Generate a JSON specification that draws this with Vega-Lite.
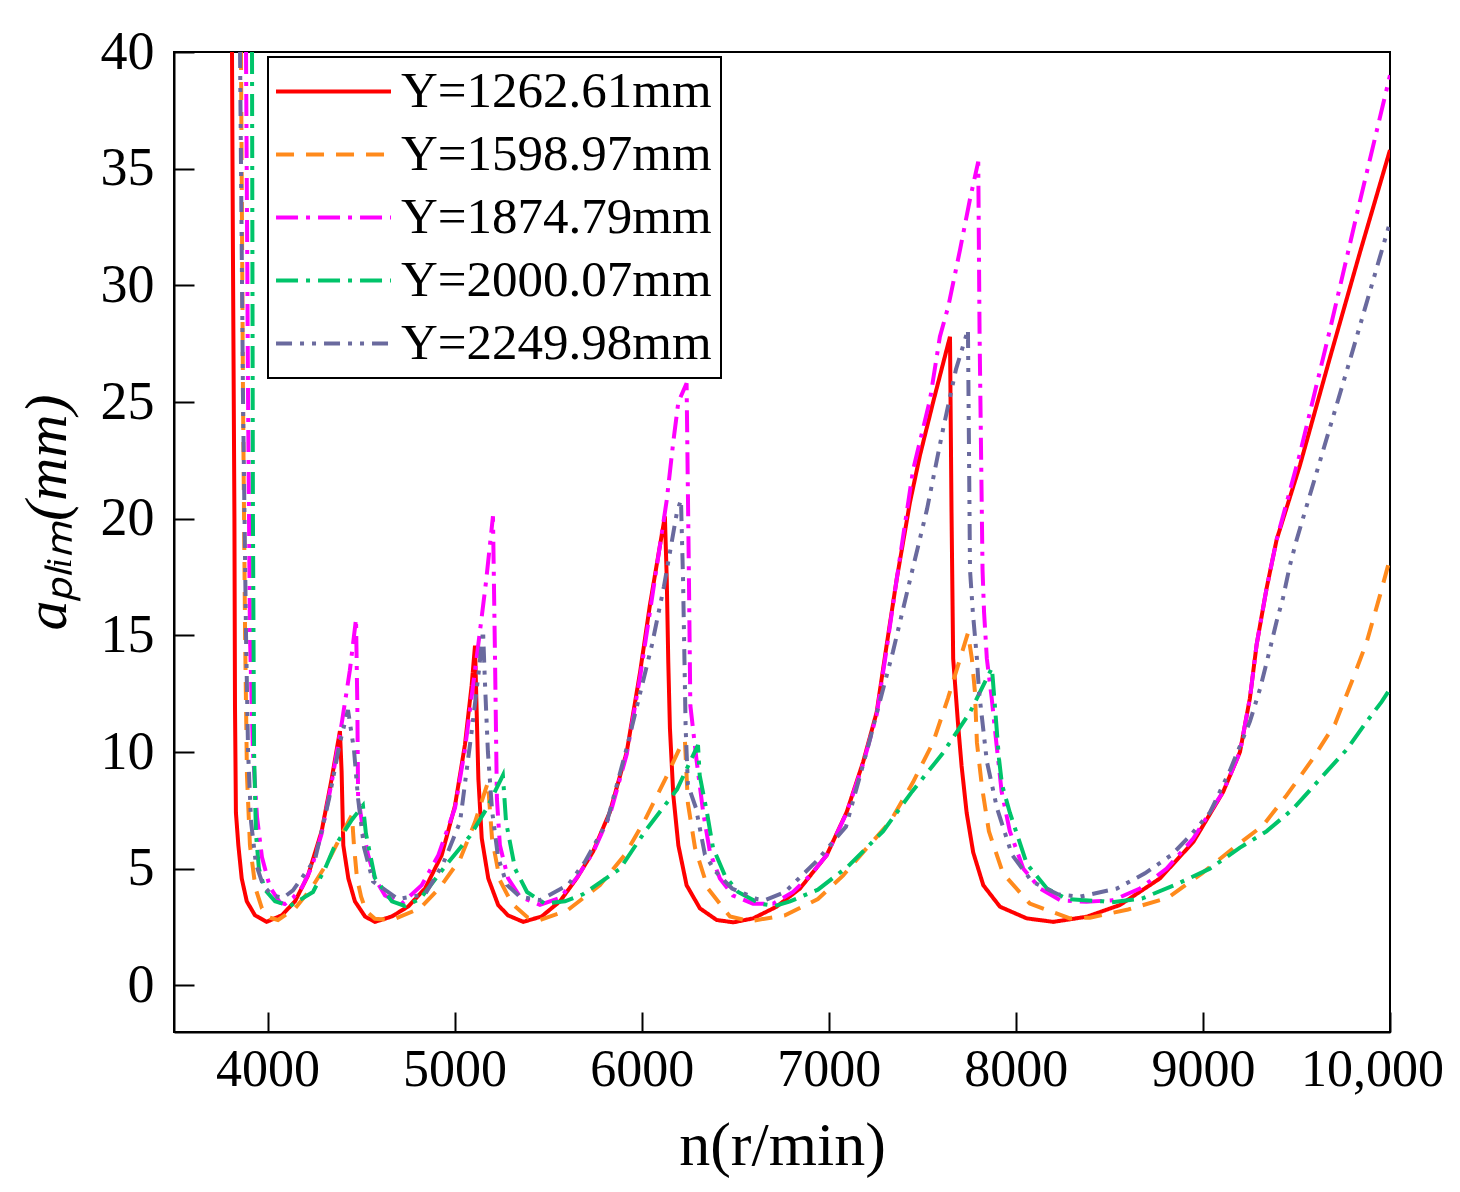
{
  "$schema": "https://vega.github.io/schema/vega-lite/v6.json",
  "width": 1216,
  "height": 980,
  "autosize": {"type": "none"},
  "padding": {"left": 174, "top": 52, "right": 70, "bottom": 160},
  "background": "white",
  "config": {
    "view": {"stroke": "black", "strokeWidth": 2},
    "axis": {
      "domainColor": "black", "domainWidth": 2, "tickColor": "black", "tickWidth": 2,
      "grid": false, "labelFont": "Liberation Serif", "labelColor": "black",
      "titleFont": "Liberation Serif", "titleColor": "black", "titleFontWeight": "normal"
    }
  },
  "data": {"values": [
{"s":"Y=1262.61mm","n":3810,"a":40},{"s":"Y=1262.61mm","n":3815,"a":31.5},{"s":"Y=1262.61mm","n":3823,"a":20},{"s":"Y=1262.61mm","n":3826,"a":12},{"s":"Y=1262.61mm","n":3831,"a":7.4},{"s":"Y=1262.61mm","n":3844,"a":6.0},{"s":"Y=1262.61mm","n":3862,"a":4.58},{"s":"Y=1262.61mm","n":3889,"a":3.6},{"s":"Y=1262.61mm","n":3933,"a":3.0},{"s":"Y=1262.61mm","n":3995,"a":2.72},{"s":"Y=1262.61mm","n":4076,"a":3.0},{"s":"Y=1262.61mm","n":4147,"a":3.6},{"s":"Y=1262.61mm","n":4216,"a":4.7},{"s":"Y=1262.61mm","n":4289,"a":6.6},{"s":"Y=1262.61mm","n":4343,"a":8.86},{"s":"Y=1262.61mm","n":4387,"a":10.9},{"s":"Y=1262.61mm","n":4396,"a":9.15},{"s":"Y=1262.61mm","n":4405,"a":6.0},{"s":"Y=1262.61mm","n":4432,"a":4.58},{"s":"Y=1262.61mm","n":4467,"a":3.6},{"s":"Y=1262.61mm","n":4521,"a":2.95},{"s":"Y=1262.61mm","n":4574,"a":2.72},{"s":"Y=1262.61mm","n":4664,"a":2.95},{"s":"Y=1262.61mm","n":4752,"a":3.38},{"s":"Y=1262.61mm","n":4842,"a":4.15},{"s":"Y=1262.61mm","n":4931,"a":5.58},{"s":"Y=1262.61mm","n":5002,"a":7.7},{"s":"Y=1262.61mm","n":5055,"a":10.3},{"s":"Y=1262.61mm","n":5091,"a":12.85},{"s":"Y=1262.61mm","n":5109,"a":14.56},{"s":"Y=1262.61mm","n":5118,"a":11.7},{"s":"Y=1262.61mm","n":5127,"a":8.86},{"s":"Y=1262.61mm","n":5145,"a":6.3},{"s":"Y=1262.61mm","n":5180,"a":4.58},{"s":"Y=1262.61mm","n":5233,"a":3.44},{"s":"Y=1262.61mm","n":5285,"a":3.0},{"s":"Y=1262.61mm","n":5367,"a":2.72},{"s":"Y=1262.61mm","n":5465,"a":2.95},{"s":"Y=1262.61mm","n":5563,"a":3.6},{"s":"Y=1262.61mm","n":5652,"a":4.58},{"s":"Y=1262.61mm","n":5740,"a":5.73},{"s":"Y=1262.61mm","n":5830,"a":7.43},{"s":"Y=1262.61mm","n":5920,"a":10.0},{"s":"Y=1262.61mm","n":5991,"a":13.4},{"s":"Y=1262.61mm","n":6044,"a":16.3},{"s":"Y=1262.61mm","n":6124,"a":20.1},{"s":"Y=1262.61mm","n":6134,"a":17.4},{"s":"Y=1262.61mm","n":6142,"a":13.9},{"s":"Y=1262.61mm","n":6151,"a":11.0},{"s":"Y=1262.61mm","n":6169,"a":8.15},{"s":"Y=1262.61mm","n":6196,"a":6.0},{"s":"Y=1262.61mm","n":6240,"a":4.29},{"s":"Y=1262.61mm","n":6311,"a":3.3},{"s":"Y=1262.61mm","n":6401,"a":2.8},{"s":"Y=1262.61mm","n":6490,"a":2.7},{"s":"Y=1262.61mm","n":6596,"a":2.87},{"s":"Y=1262.61mm","n":6721,"a":3.37},{"s":"Y=1262.61mm","n":6846,"a":4.15},{"s":"Y=1262.61mm","n":6989,"a":5.58},{"s":"Y=1262.61mm","n":7096,"a":7.43},{"s":"Y=1262.61mm","n":7184,"a":9.58},{"s":"Y=1262.61mm","n":7256,"a":11.7},{"s":"Y=1262.61mm","n":7309,"a":14.56},{"s":"Y=1262.61mm","n":7363,"a":17.4},{"s":"Y=1262.61mm","n":7434,"a":20.7},{"s":"Y=1262.61mm","n":7487,"a":22.7},{"s":"Y=1262.61mm","n":7558,"a":25.0},{"s":"Y=1262.61mm","n":7648,"a":27.8},{"s":"Y=1262.61mm","n":7656,"a":20.4},{"s":"Y=1262.61mm","n":7665,"a":14.0},{"s":"Y=1262.61mm","n":7692,"a":11.1},{"s":"Y=1262.61mm","n":7710,"a":9.4},{"s":"Y=1262.61mm","n":7737,"a":7.4},{"s":"Y=1262.61mm","n":7772,"a":5.7},{"s":"Y=1262.61mm","n":7826,"a":4.29},{"s":"Y=1262.61mm","n":7915,"a":3.37},{"s":"Y=1262.61mm","n":8058,"a":2.87},{"s":"Y=1262.61mm","n":8200,"a":2.72},{"s":"Y=1262.61mm","n":8379,"a":2.94},{"s":"Y=1262.61mm","n":8556,"a":3.44},{"s":"Y=1262.61mm","n":8770,"a":4.58},{"s":"Y=1262.61mm","n":8949,"a":6.15},{"s":"Y=1262.61mm","n":9108,"a":8.29},{"s":"Y=1262.61mm","n":9198,"a":10.0},{"s":"Y=1262.61mm","n":9251,"a":12.3},{"s":"Y=1262.61mm","n":9287,"a":14.6},{"s":"Y=1262.61mm","n":9340,"a":17.0},{"s":"Y=1262.61mm","n":9394,"a":19.1},{"s":"Y=1262.61mm","n":9519,"a":22.3},{"s":"Y=1262.61mm","n":9679,"a":26.9},{"s":"Y=1262.61mm","n":9839,"a":31.4},{"s":"Y=1262.61mm","n":10000,"a":35.8},
{"s":"Y=1598.97mm","n":3858,"a":40},{"s":"Y=1598.97mm","n":3869,"a":25},{"s":"Y=1598.97mm","n":3880,"a":15},{"s":"Y=1598.97mm","n":3890,"a":9},{"s":"Y=1598.97mm","n":3906,"a":6.0},{"s":"Y=1598.97mm","n":3936,"a":4.15},{"s":"Y=1598.97mm","n":3970,"a":3.3},{"s":"Y=1598.97mm","n":4013,"a":2.9},{"s":"Y=1598.97mm","n":4056,"a":2.8},{"s":"Y=1598.97mm","n":4147,"a":3.3},{"s":"Y=1598.97mm","n":4238,"a":4.2},{"s":"Y=1598.97mm","n":4323,"a":5.3},{"s":"Y=1598.97mm","n":4398,"a":6.5},{"s":"Y=1598.97mm","n":4451,"a":7.3},{"s":"Y=1598.97mm","n":4462,"a":6.0},{"s":"Y=1598.97mm","n":4478,"a":4.6},{"s":"Y=1598.97mm","n":4500,"a":3.8},{"s":"Y=1598.97mm","n":4526,"a":3.2},{"s":"Y=1598.97mm","n":4574,"a":2.85},{"s":"Y=1598.97mm","n":4665,"a":2.8},{"s":"Y=1598.97mm","n":4815,"a":3.3},{"s":"Y=1598.97mm","n":4922,"a":4.2},{"s":"Y=1598.97mm","n":5029,"a":5.4},{"s":"Y=1598.97mm","n":5109,"a":7.0},{"s":"Y=1598.97mm","n":5178,"a":8.7},{"s":"Y=1598.97mm","n":5200,"a":6.3},{"s":"Y=1598.97mm","n":5242,"a":4.5},{"s":"Y=1598.97mm","n":5307,"a":3.5},{"s":"Y=1598.97mm","n":5392,"a":2.9},{"s":"Y=1598.97mm","n":5456,"a":2.8},{"s":"Y=1598.97mm","n":5601,"a":3.2},{"s":"Y=1598.97mm","n":5777,"a":4.3},{"s":"Y=1598.97mm","n":5911,"a":5.6},{"s":"Y=1598.97mm","n":6018,"a":7.1},{"s":"Y=1598.97mm","n":6124,"a":8.8},{"s":"Y=1598.97mm","n":6205,"a":10.2},{"s":"Y=1598.97mm","n":6231,"a":10.5},{"s":"Y=1598.97mm","n":6247,"a":7.8},{"s":"Y=1598.97mm","n":6285,"a":5.9},{"s":"Y=1598.97mm","n":6354,"a":4.15},{"s":"Y=1598.97mm","n":6472,"a":2.95},{"s":"Y=1598.97mm","n":6579,"a":2.75},{"s":"Y=1598.97mm","n":6766,"a":3.0},{"s":"Y=1598.97mm","n":6942,"a":3.7},{"s":"Y=1598.97mm","n":7076,"a":4.7},{"s":"Y=1598.97mm","n":7183,"a":5.7},{"s":"Y=1598.97mm","n":7327,"a":7.0},{"s":"Y=1598.97mm","n":7450,"a":8.7},{"s":"Y=1598.97mm","n":7557,"a":10.4},{"s":"Y=1598.97mm","n":7637,"a":12.3},{"s":"Y=1598.97mm","n":7744,"a":15.1},{"s":"Y=1598.97mm","n":7765,"a":14.0},{"s":"Y=1598.97mm","n":7781,"a":12.6},{"s":"Y=1598.97mm","n":7792,"a":10.4},{"s":"Y=1598.97mm","n":7819,"a":8.5},{"s":"Y=1598.97mm","n":7856,"a":6.6},{"s":"Y=1598.97mm","n":7931,"a":4.8},{"s":"Y=1598.97mm","n":8075,"a":3.5},{"s":"Y=1598.97mm","n":8289,"a":2.87},{"s":"Y=1598.97mm","n":8396,"a":2.9},{"s":"Y=1598.97mm","n":8600,"a":3.25},{"s":"Y=1598.97mm","n":8813,"a":3.75},{"s":"Y=1598.97mm","n":8995,"a":4.8},{"s":"Y=1598.97mm","n":9150,"a":5.8},{"s":"Y=1598.97mm","n":9322,"a":6.86},{"s":"Y=1598.97mm","n":9447,"a":8.14},{"s":"Y=1598.97mm","n":9581,"a":9.64},{"s":"Y=1598.97mm","n":9706,"a":11.2},{"s":"Y=1598.97mm","n":9795,"a":13.0},{"s":"Y=1598.97mm","n":9875,"a":14.7},{"s":"Y=1598.97mm","n":9946,"a":16.7},{"s":"Y=1598.97mm","n":10000,"a":18.3},
{"s":"Y=1874.79mm","n":3885,"a":40},{"s":"Y=1874.79mm","n":3896,"a":25},{"s":"Y=1874.79mm","n":3906,"a":15},{"s":"Y=1874.79mm","n":3922,"a":10},{"s":"Y=1874.79mm","n":3944,"a":7.2},{"s":"Y=1874.79mm","n":3970,"a":5.5},{"s":"Y=1874.79mm","n":4013,"a":4.2},{"s":"Y=1874.79mm","n":4067,"a":3.55},{"s":"Y=1874.79mm","n":4093,"a":3.48},{"s":"Y=1874.79mm","n":4136,"a":3.75},{"s":"Y=1874.79mm","n":4184,"a":4.2},{"s":"Y=1874.79mm","n":4238,"a":5.1},{"s":"Y=1874.79mm","n":4289,"a":6.5},{"s":"Y=1874.79mm","n":4343,"a":8.7},{"s":"Y=1874.79mm","n":4398,"a":11.3},{"s":"Y=1874.79mm","n":4440,"a":13.5},{"s":"Y=1874.79mm","n":4473,"a":15.7},{"s":"Y=1874.79mm","n":4480,"a":12.0},{"s":"Y=1874.79mm","n":4484,"a":8.1},{"s":"Y=1874.79mm","n":4510,"a":6.7},{"s":"Y=1874.79mm","n":4537,"a":5.6},{"s":"Y=1874.79mm","n":4574,"a":4.58},{"s":"Y=1874.79mm","n":4628,"a":3.85},{"s":"Y=1874.79mm","n":4717,"a":3.5},{"s":"Y=1874.79mm","n":4824,"a":4.29},{"s":"Y=1874.79mm","n":4913,"a":5.58},{"s":"Y=1874.79mm","n":5002,"a":7.6},{"s":"Y=1874.79mm","n":5055,"a":10.1},{"s":"Y=1874.79mm","n":5093,"a":12.5},{"s":"Y=1874.79mm","n":5125,"a":14.5},{"s":"Y=1874.79mm","n":5168,"a":17.3},{"s":"Y=1874.79mm","n":5205,"a":20.1},{"s":"Y=1874.79mm","n":5216,"a":14.0},{"s":"Y=1874.79mm","n":5226,"a":8.0},{"s":"Y=1874.79mm","n":5242,"a":6.0},{"s":"Y=1874.79mm","n":5285,"a":4.6},{"s":"Y=1874.79mm","n":5349,"a":3.8},{"s":"Y=1874.79mm","n":5456,"a":3.45},{"s":"Y=1874.79mm","n":5563,"a":3.75},{"s":"Y=1874.79mm","n":5652,"a":4.6},{"s":"Y=1874.79mm","n":5740,"a":5.7},{"s":"Y=1874.79mm","n":5830,"a":7.3},{"s":"Y=1874.79mm","n":5920,"a":9.9},{"s":"Y=1874.79mm","n":5991,"a":13.2},{"s":"Y=1874.79mm","n":6044,"a":16.0},{"s":"Y=1874.79mm","n":6104,"a":19.2},{"s":"Y=1874.79mm","n":6134,"a":20.8},{"s":"Y=1874.79mm","n":6169,"a":23.3},{"s":"Y=1874.79mm","n":6196,"a":25.0},{"s":"Y=1874.79mm","n":6240,"a":25.8},{"s":"Y=1874.79mm","n":6252,"a":17.8},{"s":"Y=1874.79mm","n":6260,"a":12.0},{"s":"Y=1874.79mm","n":6294,"a":9.6},{"s":"Y=1874.79mm","n":6329,"a":7.4},{"s":"Y=1874.79mm","n":6365,"a":5.7},{"s":"Y=1874.79mm","n":6418,"a":4.58},{"s":"Y=1874.79mm","n":6488,"a":3.85},{"s":"Y=1874.79mm","n":6595,"a":3.5},{"s":"Y=1874.79mm","n":6702,"a":3.5},{"s":"Y=1874.79mm","n":6809,"a":4.0},{"s":"Y=1874.79mm","n":6899,"a":4.7},{"s":"Y=1874.79mm","n":6989,"a":5.58},{"s":"Y=1874.79mm","n":7096,"a":7.4},{"s":"Y=1874.79mm","n":7184,"a":9.5},{"s":"Y=1874.79mm","n":7256,"a":11.6},{"s":"Y=1874.79mm","n":7309,"a":14.4},{"s":"Y=1874.79mm","n":7363,"a":17.4},{"s":"Y=1874.79mm","n":7451,"a":22.1},{"s":"Y=1874.79mm","n":7541,"a":25.1},{"s":"Y=1874.79mm","n":7594,"a":27.8},{"s":"Y=1874.79mm","n":7639,"a":29.1},{"s":"Y=1874.79mm","n":7701,"a":31.5},{"s":"Y=1874.79mm","n":7755,"a":33.7},{"s":"Y=1874.79mm","n":7799,"a":35.3},{"s":"Y=1874.79mm","n":7806,"a":28.0},{"s":"Y=1874.79mm","n":7822,"a":17.8},{"s":"Y=1874.79mm","n":7830,"a":16.0},{"s":"Y=1874.79mm","n":7845,"a":14.0},{"s":"Y=1874.79mm","n":7871,"a":12.3},{"s":"Y=1874.79mm","n":7897,"a":10.3},{"s":"Y=1874.79mm","n":7924,"a":8.3},{"s":"Y=1874.79mm","n":7968,"a":6.6},{"s":"Y=1874.79mm","n":8040,"a":5.0},{"s":"Y=1874.79mm","n":8129,"a":4.15},{"s":"Y=1874.79mm","n":8236,"a":3.65},{"s":"Y=1874.79mm","n":8378,"a":3.58},{"s":"Y=1874.79mm","n":8521,"a":3.65},{"s":"Y=1874.79mm","n":8663,"a":4.15},{"s":"Y=1874.79mm","n":8806,"a":5.0},{"s":"Y=1874.79mm","n":8948,"a":6.29},{"s":"Y=1874.79mm","n":9108,"a":8.3},{"s":"Y=1874.79mm","n":9198,"a":10.0},{"s":"Y=1874.79mm","n":9251,"a":12.3},{"s":"Y=1874.79mm","n":9287,"a":14.6},{"s":"Y=1874.79mm","n":9340,"a":17.0},{"s":"Y=1874.79mm","n":9394,"a":19.1},{"s":"Y=1874.79mm","n":9519,"a":22.8},{"s":"Y=1874.79mm","n":9679,"a":28.1},{"s":"Y=1874.79mm","n":9839,"a":33.6},{"s":"Y=1874.79mm","n":10000,"a":39.0},
{"s":"Y=2000.07mm","n":3917,"a":40},{"s":"Y=2000.07mm","n":3922,"a":20},{"s":"Y=2000.07mm","n":3928,"a":10},{"s":"Y=2000.07mm","n":3938,"a":6.5},{"s":"Y=2000.07mm","n":3954,"a":5.0},{"s":"Y=2000.07mm","n":3986,"a":4.1},{"s":"Y=2000.07mm","n":4040,"a":3.6},{"s":"Y=2000.07mm","n":4120,"a":3.4},{"s":"Y=2000.07mm","n":4243,"a":4.0},{"s":"Y=2000.07mm","n":4307,"a":5.0},{"s":"Y=2000.07mm","n":4355,"a":5.9},{"s":"Y=2000.07mm","n":4451,"a":7.1},{"s":"Y=2000.07mm","n":4510,"a":7.7},{"s":"Y=2000.07mm","n":4526,"a":6.5},{"s":"Y=2000.07mm","n":4574,"a":4.6},{"s":"Y=2000.07mm","n":4665,"a":3.6},{"s":"Y=2000.07mm","n":4735,"a":3.4},{"s":"Y=2000.07mm","n":4815,"a":3.7},{"s":"Y=2000.07mm","n":4949,"a":5.1},{"s":"Y=2000.07mm","n":5082,"a":6.4},{"s":"Y=2000.07mm","n":5173,"a":7.6},{"s":"Y=2000.07mm","n":5258,"a":9.0},{"s":"Y=2000.07mm","n":5275,"a":7.0},{"s":"Y=2000.07mm","n":5323,"a":5.0},{"s":"Y=2000.07mm","n":5387,"a":4.0},{"s":"Y=2000.07mm","n":5483,"a":3.5},{"s":"Y=2000.07mm","n":5590,"a":3.6},{"s":"Y=2000.07mm","n":5686,"a":3.9},{"s":"Y=2000.07mm","n":5884,"a":5.0},{"s":"Y=2000.07mm","n":6018,"a":6.6},{"s":"Y=2000.07mm","n":6189,"a":8.4},{"s":"Y=2000.07mm","n":6301,"a":10.3},{"s":"Y=2000.07mm","n":6310,"a":9.0},{"s":"Y=2000.07mm","n":6349,"a":7.4},{"s":"Y=2000.07mm","n":6381,"a":5.9},{"s":"Y=2000.07mm","n":6445,"a":4.7},{"s":"Y=2000.07mm","n":6515,"a":4.0},{"s":"Y=2000.07mm","n":6632,"a":3.5},{"s":"Y=2000.07mm","n":6712,"a":3.4},{"s":"Y=2000.07mm","n":6793,"a":3.6},{"s":"Y=2000.07mm","n":6942,"a":4.1},{"s":"Y=2000.07mm","n":7103,"a":5.1},{"s":"Y=2000.07mm","n":7290,"a":6.6},{"s":"Y=2000.07mm","n":7445,"a":8.3},{"s":"Y=2000.07mm","n":7605,"a":9.9},{"s":"Y=2000.07mm","n":7755,"a":11.7},{"s":"Y=2000.07mm","n":7872,"a":13.6},{"s":"Y=2000.07mm","n":7878,"a":13.0},{"s":"Y=2000.07mm","n":7910,"a":9.7},{"s":"Y=2000.07mm","n":7926,"a":8.6},{"s":"Y=2000.07mm","n":7968,"a":7.4},{"s":"Y=2000.07mm","n":8059,"a":5.2},{"s":"Y=2000.07mm","n":8166,"a":4.15},{"s":"Y=2000.07mm","n":8273,"a":3.7},{"s":"Y=2000.07mm","n":8466,"a":3.6},{"s":"Y=2000.07mm","n":8503,"a":3.55},{"s":"Y=2000.07mm","n":8674,"a":3.72},{"s":"Y=2000.07mm","n":8850,"a":4.3},{"s":"Y=2000.07mm","n":9037,"a":5.0},{"s":"Y=2000.07mm","n":9198,"a":5.9},{"s":"Y=2000.07mm","n":9340,"a":6.6},{"s":"Y=2000.07mm","n":9483,"a":7.57},{"s":"Y=2000.07mm","n":9643,"a":9.0},{"s":"Y=2000.07mm","n":9768,"a":10.1},{"s":"Y=2000.07mm","n":9875,"a":11.3},{"s":"Y=2000.07mm","n":9955,"a":12.15},{"s":"Y=2000.07mm","n":10000,"a":12.7},
{"s":"Y=2249.98mm","n":3853,"a":40},{"s":"Y=2249.98mm","n":3869,"a":25},{"s":"Y=2249.98mm","n":3885,"a":15},{"s":"Y=2249.98mm","n":3896,"a":10},{"s":"Y=2249.98mm","n":3912,"a":7},{"s":"Y=2249.98mm","n":3938,"a":5.2},{"s":"Y=2249.98mm","n":3976,"a":4.3},{"s":"Y=2249.98mm","n":4024,"a":3.85},{"s":"Y=2249.98mm","n":4083,"a":3.75},{"s":"Y=2249.98mm","n":4136,"a":4.07},{"s":"Y=2249.98mm","n":4254,"a":5.4},{"s":"Y=2249.98mm","n":4329,"a":8.0},{"s":"Y=2249.98mm","n":4387,"a":10.4},{"s":"Y=2249.98mm","n":4430,"a":11.8},{"s":"Y=2249.98mm","n":4462,"a":10.1},{"s":"Y=2249.98mm","n":4484,"a":8.0},{"s":"Y=2249.98mm","n":4516,"a":5.9},{"s":"Y=2249.98mm","n":4564,"a":4.45},{"s":"Y=2249.98mm","n":4697,"a":3.7},{"s":"Y=2249.98mm","n":4842,"a":3.9},{"s":"Y=2249.98mm","n":4938,"a":5.2},{"s":"Y=2249.98mm","n":5029,"a":7.0},{"s":"Y=2249.98mm","n":5093,"a":11.0},{"s":"Y=2249.98mm","n":5130,"a":13.5},{"s":"Y=2249.98mm","n":5152,"a":15.2},{"s":"Y=2249.98mm","n":5162,"a":13.0},{"s":"Y=2249.98mm","n":5178,"a":10.0},{"s":"Y=2249.98mm","n":5200,"a":7.5},{"s":"Y=2249.98mm","n":5232,"a":5.5},{"s":"Y=2249.98mm","n":5280,"a":4.3},{"s":"Y=2249.98mm","n":5349,"a":3.8},{"s":"Y=2249.98mm","n":5456,"a":3.65},{"s":"Y=2249.98mm","n":5606,"a":4.3},{"s":"Y=2249.98mm","n":5697,"a":5.3},{"s":"Y=2249.98mm","n":5814,"a":7.0},{"s":"Y=2249.98mm","n":5921,"a":10.2},{"s":"Y=2249.98mm","n":6055,"a":14.6},{"s":"Y=2249.98mm","n":6119,"a":17.1},{"s":"Y=2249.98mm","n":6189,"a":20.3},{"s":"Y=2249.98mm","n":6210,"a":20.8},{"s":"Y=2249.98mm","n":6221,"a":17.4},{"s":"Y=2249.98mm","n":6235,"a":11.0},{"s":"Y=2249.98mm","n":6247,"a":8.6},{"s":"Y=2249.98mm","n":6290,"a":7.6},{"s":"Y=2249.98mm","n":6338,"a":5.6},{"s":"Y=2249.98mm","n":6392,"a":4.9},{"s":"Y=2249.98mm","n":6483,"a":4.15},{"s":"Y=2249.98mm","n":6616,"a":3.7},{"s":"Y=2249.98mm","n":6659,"a":3.65},{"s":"Y=2249.98mm","n":6766,"a":4.0},{"s":"Y=2249.98mm","n":6932,"a":5.3},{"s":"Y=2249.98mm","n":7092,"a":6.8},{"s":"Y=2249.98mm","n":7209,"a":10.2},{"s":"Y=2249.98mm","n":7343,"a":14.3},{"s":"Y=2249.98mm","n":7429,"a":17.2},{"s":"Y=2249.98mm","n":7525,"a":20.4},{"s":"Y=2249.98mm","n":7610,"a":23.8},{"s":"Y=2249.98mm","n":7680,"a":26.4},{"s":"Y=2249.98mm","n":7744,"a":28.1},{"s":"Y=2249.98mm","n":7755,"a":17.8},{"s":"Y=2249.98mm","n":7770,"a":16.0},{"s":"Y=2249.98mm","n":7792,"a":14.0},{"s":"Y=2249.98mm","n":7803,"a":12.6},{"s":"Y=2249.98mm","n":7845,"a":9.6},{"s":"Y=2249.98mm","n":7899,"a":7.6},{"s":"Y=2249.98mm","n":7979,"a":5.6},{"s":"Y=2249.98mm","n":8086,"a":4.45},{"s":"Y=2249.98mm","n":8225,"a":3.9},{"s":"Y=2249.98mm","n":8343,"a":3.8},{"s":"Y=2249.98mm","n":8540,"a":4.15},{"s":"Y=2249.98mm","n":8690,"a":4.8},{"s":"Y=2249.98mm","n":8834,"a":5.6},{"s":"Y=2249.98mm","n":8930,"a":6.4},{"s":"Y=2249.98mm","n":9037,"a":7.4},{"s":"Y=2249.98mm","n":9144,"a":9.2},{"s":"Y=2249.98mm","n":9251,"a":11.3},{"s":"Y=2249.98mm","n":9305,"a":12.7},{"s":"Y=2249.98mm","n":9358,"a":14.4},{"s":"Y=2249.98mm","n":9394,"a":15.6},{"s":"Y=2249.98mm","n":9428,"a":16.6},{"s":"Y=2249.98mm","n":9465,"a":18.0},{"s":"Y=2249.98mm","n":9501,"a":19.1},{"s":"Y=2249.98mm","n":9786,"a":26.8},{"s":"Y=2249.98mm","n":10000,"a":32.7}
  ]},
  "mark": {"type": "line", "strokeWidth": 4, "clip": true, "strokeCap": "butt"},
  "encoding": {
    "x": {
      "field": "n", "type": "quantitative",
      "scale": {"domain": [3500, 10000], "nice": false, "zero": false},
      "axis": {
        "values": [4000, 5000, 6000, 7000, 8000, 9000, 10000],
        "labelExpr": "datum.value >= 10000 ? '10,000' : '' + datum.value",
        "labelFontSize": 52, "labelPadding": 32, "tickSize": -20, "labelOverlap": false, "labelBound": false, "labelFlush": false,
        "labelOffset": {"condition": {"test": "datum.value >= 10000", "value": -18}, "value": 0},
        "title": "n(r/min)", "titleFontSize": 62, "titlePadding": 20
      }
    },
    "y": {
      "field": "a", "type": "quantitative",
      "scale": {"domain": [-2, 40], "nice": false, "zero": false},
      "axis": {
        "values": [0, 5, 10, 15, 20, 25, 30, 35, 40],
        "labelFontSize": 54, "labelPadding": 40, "tickSize": -20, "labelOverlap": false,
        "title": "aₚₗᵢₘ(mm)", "titleFontSize": 60, "titleFontStyle": "italic", "titlePadding": 22, "titleY": 460
      }
    },
    "color": {
      "field": "s", "type": "nominal",
      "scale": {
        "domain": ["Y=1262.61mm", "Y=1598.97mm", "Y=1874.79mm", "Y=2000.07mm", "Y=2249.98mm"],
        "range": ["#FF0000", "#FF8A1C", "#FF00FF", "#00C46A", "#6A6A9E"]
      },
      "legend": {
        "orient": "none", "legendX": 94, "legendY": 5, "title": null,
        "symbolType": "M-4,0H4", "symbolSize": 826, "symbolStrokeWidth": 4, "symbolOffset": 31,
        "labelFont": "Liberation Serif", "labelFontSize": 51, "labelColor": "black", "labelLimit": 0,
        "labelOffset": 42, "rowPadding": 11, "padding": 9,
        "strokeColor": "black", "fillColor": "white",
        "encode": {"legend": {"update": {"strokeWidth": {"value": 2}}}}
      }
    },
    "strokeDash": {
      "field": "s", "type": "nominal",
      "scale": {
        "domain": ["Y=1262.61mm", "Y=1598.97mm", "Y=1874.79mm", "Y=2000.07mm", "Y=2249.98mm"],
        "range": [[1, 0], [18, 12], [22, 8, 4, 8], [22, 8, 4, 8], [16, 8, 4, 8, 4, 8]]
      },
      "legend": {
        "orient": "none", "legendX": 94, "legendY": 5, "title": null,
        "symbolType": "M-4,0H4", "symbolSize": 826, "symbolStrokeWidth": 4, "symbolOffset": 31,
        "labelFont": "Liberation Serif", "labelFontSize": 51, "labelColor": "black", "labelLimit": 0,
        "labelOffset": 42, "rowPadding": 11, "padding": 9,
        "strokeColor": "black", "fillColor": "white",
        "encode": {"legend": {"update": {"strokeWidth": {"value": 2}}}}
      }
    }
  }
}
